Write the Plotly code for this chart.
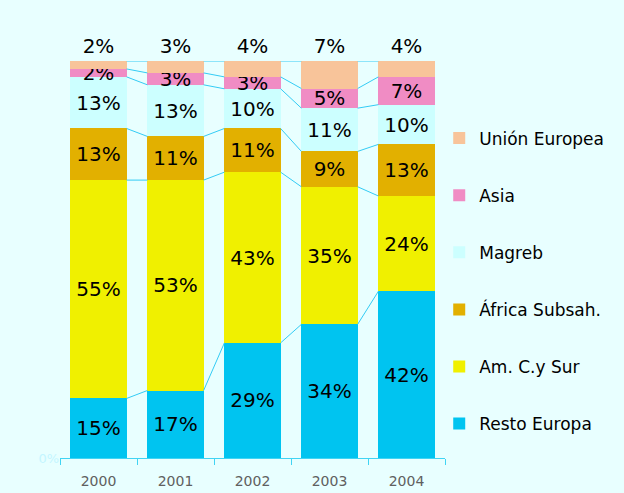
import plotly.graph_objects as go

years = ["2000", "2001", "2002", "2003", "2004"]
series_names = ["Resto Europa", "Am. C.y Sur", "África Subsah.", "Magreb", "Asia", "Unión Europea"]
resto_europa = [15, 17, 29, 34, 42]
am_cy_sur = [55, 53, 43, 35, 24]
africa_subsah = [13, 11, 11, 9, 13]
magreb = [13, 13, 10, 11, 10]
asia = [2, 3, 3, 5, 7]
union_europea = [2, 3, 4, 7, 4]

values = [resto_europa, am_cy_sur, africa_subsah, magreb, asia, union_europea]
colors = ["#00C4F0", "#F0F000", "#E2B000", "#CCFFFF", "#F08CC4", "#F8C49A"]

xs = list(range(len(years)))
bar_w = 0.73
FONT = "DejaVu Sans"

fig = go.Figure()

totals = [sum(v[i] for v in values) for i in range(len(years))]
n = len(values)

for k, (name, vals, col) in enumerate(zip(series_names, values, colors)):
    fig.add_trace(go.Bar(
        x=xs, y=vals, name=name, width=bar_w,
        marker=dict(color=col, line=dict(width=0)),
        text=[f"{v}%" for v in vals],
        textposition="outside" if k == n - 1 else "inside",
        insidetextanchor="middle",
        constraintext="none",
        textfont=dict(family=FONT, size=20, color="#000000"),
        cliponaxis=False,
        legendgroup=name,
        legendrank=n - k,
        hoverinfo="skip",
    ))

# series lines connecting top of each segment
cum = [0] * len(years)
for k, vals in enumerate(values):
    cum = [c + v for c, v in zip(cum, vals)]
    norm = [c / t * 100 for c, t in zip(cum, totals)]
    lx, ly = [], []
    for i in range(len(years) - 1):
        lx += [xs[i] + bar_w / 2, xs[i + 1] - bar_w / 2, None]
        ly += [norm[i], norm[i + 1], None]
    fig.add_trace(go.Scatter(
        x=lx, y=ly, mode="lines", showlegend=False, hoverinfo="skip",
        line=dict(color="#33CCF5", width=1),
    ))

fig.update_layout(
    width=624, height=493,
    barmode="stack", barnorm="percent",
    paper_bgcolor="#E8FFFF", plot_bgcolor="#E8FFFF",
    margin=dict(l=60, r=179, t=61, b=35, autoexpand=False),
    font=dict(family=FONT, size=14, color="#000000"),
    showlegend=True,
    legend=dict(
        x=0.985, xanchor="left", y=0.85, yanchor="top",
        traceorder="grouped", tracegroupgap=32,
        font=dict(family=FONT, size=17, color="#000000"),
        bgcolor="rgba(0,0,0,0)",
    ),
    xaxis=dict(
        range=[-0.5, 4.5], tickvals=xs, ticktext=years,
        ticks="", showgrid=False, zeroline=False, automargin=False,
        showline=True, linecolor="#40D4F4", linewidth=1,
        tickfont=dict(family=FONT, size=14, color="#606060"),
        ticklabelstandoff=10,
        minor=dict(tick0=0.5, dtick=1, ticks="outside", ticklen=6,
                   tickcolor="#40D4F4", tickwidth=1, showgrid=False),
    ),
    yaxis=dict(
        range=[0, 100], tickvals=[0], ticktext=["0%"], showgrid=False,
        zeroline=False, showline=False, ticks="", automargin=False,
        tickfont=dict(family=FONT, size=13, color="#C4F6FF"),
    ),
)

fig.write_html("out.html", config={"displayModeBar": False},
               post_script="document.body.style.margin='0';")
